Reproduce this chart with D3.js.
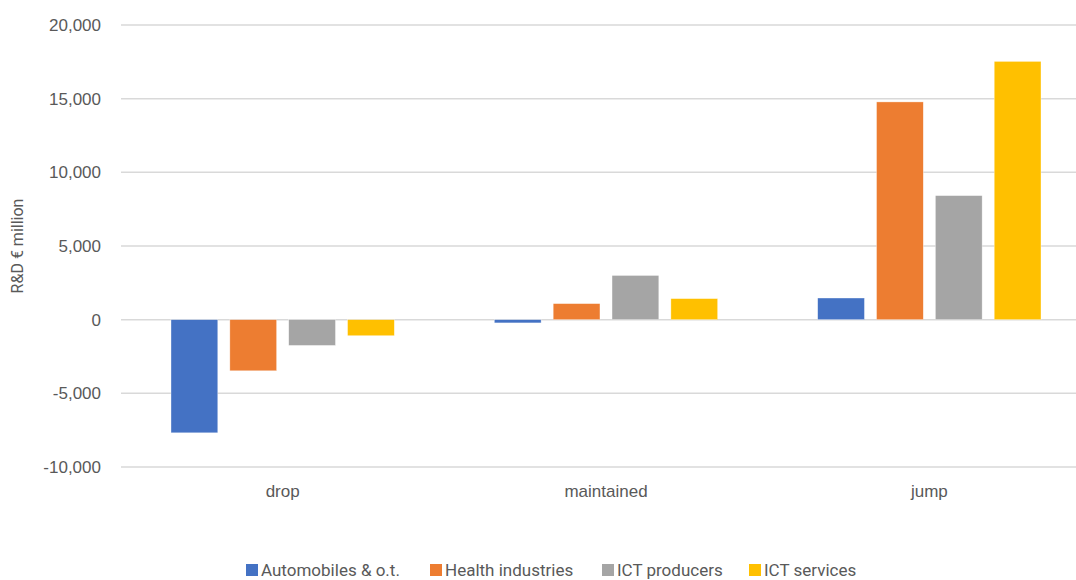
<!DOCTYPE html>
<html>
<head>
<meta charset="utf-8">
<script src="https://cdn.jsdelivr.net/npm/d3@7"></script>
<style>
  html, body { margin: 0; padding: 0; background: #fff; }
  svg { display: block; font-family: "Roboto", "Noto Sans", sans-serif; }
</style>
</head>
<body>
<svg id="chart" width="1076" height="580"></svg>
<script>
const categories = ["drop", "maintained", "jump"];
const seriesNames = ["Automobiles & o.t.", "Health industries", "ICT producers", "ICT services"];
const automobiles = [-7680, -220, 1470];
const health = [-3470, 1090, 14780];
const ictProducers = [-1750, 3000, 8420];
const ictServices = [-1090, 1430, 17530];
const yTicks = [-10000, -5000, 0, 5000, 10000, 15000, 20000];
const colors = ["#4472C4", "#ED7D31", "#A5A5A5", "#FFC000"];

const seriesValues = [automobiles, health, ictProducers, ictServices];
const data = categories.map((c, i) => ({
  category: c,
  values: seriesNames.map((s, j) => ({ series: s, value: seriesValues[j][i], color: colors[j] }))
}));

const svg = d3.select("#chart");
const plotLeft = 121, plotRight = 1091, plotTop = 25, plotBottom = 467;

const x0 = d3.scaleBand().domain(categories).range([plotLeft, plotRight]).paddingInner(0).paddingOuter(0);
const x1 = d3.scaleBand().domain(seriesNames).range([50, x0.bandwidth() - 50]).paddingInner(0.205).paddingOuter(0);
const y = d3.scaleLinear().domain([-10000, 20000]).range([plotBottom, plotTop]);

const locale = d3.formatLocale({ decimal: ".", thousands: ",", grouping: [3], currency: ["", ""], minus: "-" });

// gridlines
svg.append("g").selectAll("line").data(yTicks).join("line")
  .attr("x1", plotLeft).attr("x2", plotRight)
  .attr("y1", d => y(d)).attr("y2", d => y(d))
  .attr("stroke", "#D9D9D9").attr("stroke-width", 1.5);

// y axis labels
const yAxis = d3.axisLeft(y).tickValues(yTicks).tickSize(0).tickPadding(20)
  .tickFormat(locale.format(","));
const yg = svg.append("g").attr("transform", `translate(${plotLeft},0)`).call(yAxis);
yg.select(".domain").remove();
yg.selectAll("text").attr("fill", "#595959").attr("font-size", 17).style("font-family", "inherit");

// bars
const groups = svg.append("g").selectAll("g").data(data).join("g")
  .attr("transform", d => `translate(${x0(d.category)},0)`);
groups.selectAll("rect").data(d => d.values).join("rect")
  .attr("x", d => x1(d.series))
  .attr("width", x1.bandwidth())
  .attr("y", d => Math.min(y(d.value), y(0)))
  .attr("height", d => Math.abs(y(d.value) - y(0)))
  .attr("fill", d => d.color)
  .attr("stroke", "#fff").attr("stroke-width", 0.6).attr("stroke-opacity", 0.6);

// category labels
const xAxis = d3.axisBottom(x0).tickSize(0).tickPadding(0);
const xg = svg.append("g").attr("transform", `translate(0,${plotBottom})`).call(xAxis);
xg.select(".domain").remove();
xg.selectAll("text").attr("fill", "#595959").attr("font-size", 17)
  .attr("y", 0).attr("dy", 0).attr("transform", "translate(0,30)").style("font-family", "inherit");

// y axis title
svg.append("text")
  .attr("transform", `translate(23,${(plotTop + plotBottom) / 2}) rotate(-90)`)
  .attr("text-anchor", "middle")
  .attr("fill", "#595959").attr("font-size", 16)
  .text("R&D € million");

// legend
const legendX = [246, 430, 602, 749];
const lg = svg.append("g").selectAll("g").data(seriesNames).join("g")
  .attr("transform", (d, i) => `translate(${legendX[i]},564)`);
lg.append("rect").attr("width", 12).attr("height", 12).attr("fill", (d, i) => colors[i]);
lg.append("text").attr("x", 15).attr("y", 12).attr("fill", "#595959").attr("font-size", 17).text(d => d);
</script>
</body>
</html>
